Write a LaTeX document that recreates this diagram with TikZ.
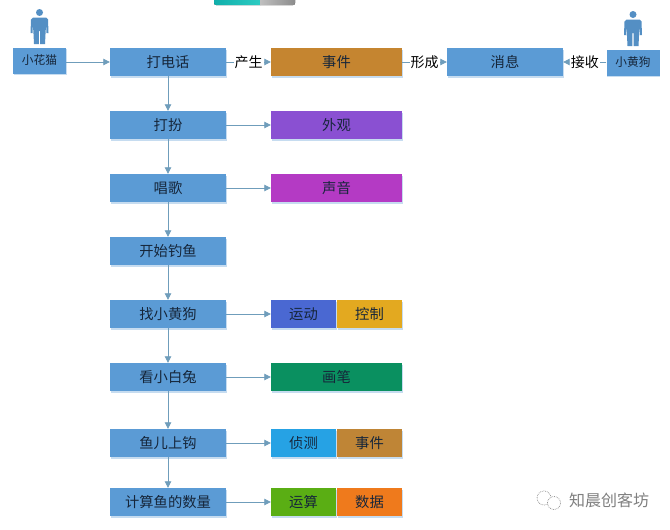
\documentclass[tikz,border=0pt]{standalone}
\usepackage{fontspec}
\setmainfont{Noto Sans CJK SC}
\usetikzlibrary{arrows.meta,shadows}
\definecolor{boxblue}{HTML}{5B9BD5}
\definecolor{arrowc}{HTML}{6F9DBB}
\definecolor{inkc}{HTML}{16263A}
\definecolor{cbrown}{HTML}{C58530}
\definecolor{cpurple}{HTML}{8A50D2}
\definecolor{cmagenta}{HTML}{B43AC4}
\definecolor{cindigo}{HTML}{4A68D2}
\definecolor{cyellow}{HTML}{E3A920}
\definecolor{cgreen}{HTML}{0A9060}
\definecolor{ccyan}{HTML}{26A2E4}
\definecolor{clime}{HTML}{5AAE14}
\definecolor{corange}{HTML}{EF7A1C}
\definecolor{stripa}{HTML}{10AFAB}
\definecolor{stripb}{HTML}{2CCBC2}
\tikzset{
  x=1pt,y=-1pt,
  cbox/.style={rectangle,inner sep=0pt,text=inkc,font=\fontsize{14.3}{15}\selectfont,
    general shadow={fill=boxblue!35,shadow xshift=0.6pt,shadow yshift=-1.6pt}},
  flow/.style={cbox,fill=boxblue,minimum width=116pt,minimum height=28pt},
  wide/.style={cbox,minimum width=131pt,minimum height=28pt},
  half/.style={cbox,minimum width=65pt,minimum height=28pt},
  actor/.style={cbox,fill=boxblue,minimum width=53pt,minimum height=26pt,font=\fontsize{11.7}{12}\selectfont},
  edgelabel/.style={fill=white,inner sep=1pt,text=black,font=\fontsize{14}{15}\selectfont},
  link/.style={draw=arrowc,line width=0.8pt,-{Triangle[length=6.5pt,width=6.5pt,fill=arrowc]}},
  personfill/.style={fill=boxblue!92!black,draw=none},
}
\newcommand{\personshape}[2]{%
  \fill[personfill] (#1,#2+3.5) circle[radius=3.5];
  \fill[personfill] (#1-6.5,#2+8.5) -- (#1+6.5,#2+8.5) -- (#1+8.5,#2+10.5)
    -- (#1+9,#2+24) -- (#1+7,#2+24) -- (#1+6.6,#2+15) -- (#1+6,#2+25)
    -- (#1+5.5,#2+35) -- (#1+0.6,#2+35) -- (#1+0.6,#2+22) -- (#1-0.6,#2+22) -- (#1-0.6,#2+35)
    -- (#1-5.5,#2+35) -- (#1-6,#2+25) -- (#1-6.6,#2+15) -- (#1-7,#2+24) -- (#1-9,#2+24)
    -- (#1-8.5,#2+10.5) -- cycle;}
\begin{document}
\begin{tikzpicture}
\useasboundingbox (0,0) rectangle (670,530);
\fill[white] (0,0) rectangle (670,530);
% top strip
\fill[left color=stripa,right color=stripb] (214,0) -- (214,3) .. controls (214,4.5) and (215,5) .. (216,5) -- (260,5) -- (260,0) -- cycle;
\fill[left color=black!25,right color=black!45] (260,0) -- (260,5) -- (293,5) .. controls (294,5) and (295,4.5) .. (295,3) -- (295,0) -- cycle;
% actors
\personshape{39.5}{9}
\personshape{633}{11}
\node[actor] (cat) at (39.5,60.5) {小花猫};
\node[actor] (dog) at (633,62.5) {小黄狗};
% flow column
\node[flow] (call) at (168,62) {打电话};
\node[flow] (dress) at (168,125) {打扮};
\node[flow] (sing) at (168,188) {唱歌};
\node[flow] (fish) at (168,251) {开始钓鱼};
\node[flow] (find) at (168,314) {找小黄狗};
\node[flow] (see) at (168,377) {看小白兔};
\node[flow] (bite) at (168,443) {鱼儿上钩};
\node[flow] (count) at (168,502) {计算鱼的数量};
% right column
\node[wide,fill=cbrown] (event) at (336.5,62) {事件};
\node[wide,fill=cpurple] (look) at (336.5,125) {外观};
\node[wide,fill=cmagenta] (sound) at (336.5,188) {声音};
\node[half,fill=cindigo] (motion) at (303.5,314) {运动};
\node[half,fill=cyellow] (control) at (369.5,314) {控制};
\node[wide,fill=cgreen] (pen) at (336.5,377) {画笔};
\node[half,fill=ccyan] (sense) at (303.5,443) {侦测};
\node[half,fill=cbrown!92!gray] (event2) at (369.5,443) {事件};
\node[half,fill=clime] (calc) at (303.5,502) {运算};
\node[half,fill=corange] (data) at (369.5,502) {数据};
\node[flow] (msg) at (505,62) {消息};
% connectors
\draw[link] (cat.east |- call.west) -- (call.west);
\draw[link] (call) -- (dress);
\draw[link] (dress) -- (sing);
\draw[link] (sing) -- (fish);
\draw[link] (fish) -- (find);
\draw[link] (find) -- (see);
\draw[link] (see) -- (bite);
\draw[link] (bite) -- (count);
\draw[link] (dress) -- (look);
\draw[link] (sing) -- (sound);
\draw[link] (find) -- (motion);
\draw[link] (see) -- (pen);
\draw[link] (bite) -- (sense);
\draw[link] (count) -- (calc);
\draw[link] (call) -- node[edgelabel] {产生} (event);
\draw[link] (event) -- node[edgelabel] {形成} (msg);
\draw[link] (dog.west |- msg.east) -- node[edgelabel] {接收} (msg.east);
% watermark
\node[text=black!50,font=\fontsize{16}{17}\selectfont,inner sep=0pt] (mark) at (609,500.5) {知晨创客坊};
\coordinate (wa) at (544,498);
\coordinate (wb) at (554,503);
\draw[black!45,densely dotted,line width=0.7pt] (wa) circle[radius=7];
\draw[black!45,densely dotted,fill=white,line width=0.7pt] (wb) circle[radius=6.5];
\end{tikzpicture}
\end{document}
